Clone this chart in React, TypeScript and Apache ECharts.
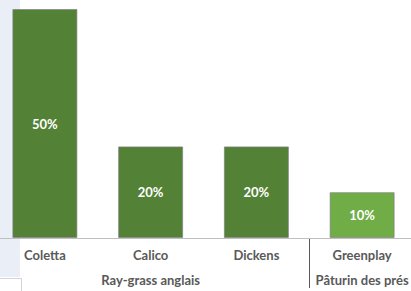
import React, { useEffect, useRef } from "react";
import * as echarts from "echarts";

const categories = ["Coletta", "Calico", "Dickens", "Greenplay"];
const values = [50, 20, 20, 10];
const groupOf = [0, 0, 0, 1];
const groupNames = ["Ray-grass anglais", "Pâturin des prés"];
const groupColors = ["#538135", "#70AD47"];

const FONT = "Lato, 'Open Sans', sans-serif";

export default function App() {
  const ref = useRef<HTMLDivElement>(null);
  useEffect(() => {
    const el = ref.current!;
    const chart = echarts.init(el, null, { renderer: "svg" });
    chart.setOption({
      animation: false,
      backgroundColor: "#ffffff",
      grid: { left: 0, right: 0, top: 9, bottom: 53, containLabel: false, outerBoundsMode: "none" },
      xAxis: {
        type: "category",
        data: categories,
        axisLine: { show: true, lineStyle: { color: "#bfbfbf", width: 1 } },
        axisTick: { show: false },
        axisLabel: {
          color: "#595959",
          fontWeight: "bold",
          fontSize: 13,
          fontFamily: FONT,
          margin: 10,
        },
        z: 5,
      },
      yAxis: { type: "value", min: 0, max: 50, show: false, splitLine: { show: false } },
      series: [
        {
          type: "bar",
          data: values.map((v, i) => ({
            value: v,
            itemStyle: { color: groupColors[groupOf[i]] },
          })),
          barWidth: 65,
          itemStyle: { borderColor: "rgba(130,130,130,0.7)", borderWidth: 1 },
          label: {
            show: true,
            position: "inside",
            formatter: "{c}%",
            color: "#ffffff",
            fontWeight: "bold",
            fontSize: 13,
            fontFamily: FONT,
          },
          z: 3,
        },
      ],
    });

    const px = (c: string) => chart.convertToPixel({ xAxisIndex: 0 }, c) as number;
    const baseY = chart.convertToPixel({ yAxisIndex: 0 }, 0) as number;
    const graphics: any[] = [];
    // background strip on left (page x 0..20 => div x 8..28)
    graphics.push({
      type: "rect",
      z: -10,
      shape: { x: 8, y: 0, width: 20, height: 277 },
      style: { fill: "#E9EEF7" },
    });
    graphics.push({
      type: "polyline",
      z: -9,
      shape: { points: [[8, 278.5], [29.5, 278.5], [29.5, 291]] },
      style: { stroke: "#d4d4d4", fill: null, lineWidth: 1 },
    });
    groupNames.forEach((g, gi) => {
      const idx = categories.map((_, i) => i).filter((i) => groupOf[i] === gi);
      const first = px(categories[idx[0]]);
      const last = px(categories[idx[idx.length - 1]]);
      graphics.push({
        type: "text",
        x: (first + last) / 2,
        y: 280,
        style: {
          text: g,
          fill: "#595959",
          font: `bold 13px ${FONT}`,
          align: "center",
          verticalAlign: "middle",
        },
      });
      if (gi < groupNames.length - 1) {
        const nextFirst = px(categories[idx[idx.length - 1] + 1]);
        const bx = Math.round((last + nextFirst) / 2) + 0.5;
        graphics.push({
          type: "line",
          shape: { x1: bx, y1: baseY, x2: bx, y2: 288 },
          style: { stroke: "#595959", lineWidth: 1 },
        });
      }
    });
    chart.setOption({ graphic: graphics });
    return () => chart.dispose();
  }, []);
  return (
    <div
      ref={ref}
      style={{ position: "fixed", left: -8, top: 0, width: 423, height: 291 }}
    />
  );
}
